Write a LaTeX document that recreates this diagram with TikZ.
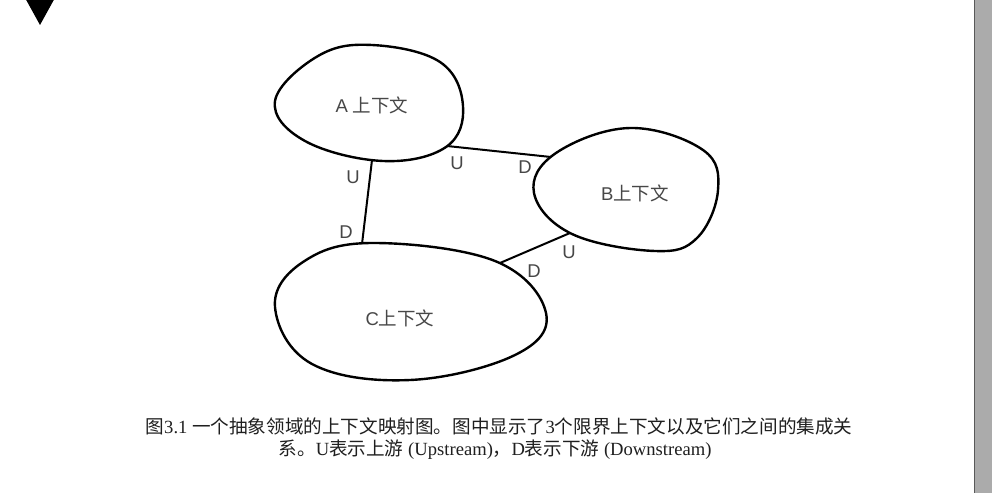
\documentclass[tikz,border=0pt]{standalone}
\usepackage{fontspec}
\setmainfont{Liberation Sans}
\newfontfamily\cjk{Noto Sans CJK SC}
\newfontfamily\serifl{Liberation Serif}
\begin{document}
\begin{tikzpicture}[x=1pt,y=-1pt,
  blob/.style={draw=black, line width=2.4pt, line join=round},
  link/.style={draw=black, line width=2pt},
  lbl/.style={text=black!72, font=\fontsize{18.5}{22}\selectfont, inner sep=0pt},
  udlbl/.style={text=black!72, font=\fontsize{18.5}{22}\selectfont, inner sep=0pt},
  captext/.style={text=black!88, font=\fontsize{18.6}{24}\selectfont, inner sep=0pt}]
\useasboundingbox (0,0) rectangle (992,492);
\fill[white] (0,0) rectangle (992,492);
% corner marker and side bar
\fill[black] (24,-4) -- (56,-4) -- (40,25) -- cycle;
\fill[black!33] (974,-1) rectangle (993,493);
\draw[black!65, line width=1.2pt] (974.6,-1) -- (974.6,493);
% blobs
\draw[blob] plot[smooth cycle, tension=0.65] coordinates {
  (275,101) (318,56) (372,45) (440,62) (463,106) (446,147) (383,161) (305,141)};
\draw[blob] plot[smooth cycle, tension=0.65] coordinates {
  (534,193) (556,153) (630,128) (703,150) (718,190) (697,238) (655,251) (572,234)};
\draw[blob] plot[smooth cycle, tension=0.65] coordinates {
  (275,307) (303,262) (372,243) (495,261) (546,313) (515,355) (410,380) (312,364)};
% labels
\node[lbl] (A) at (372,105) {A {\cjk 上下文}};
\node[lbl] (B) at (635,193) {B{\cjk 上下文}};
\node[lbl] (C) at (400,318) {C{\cjk 上下文}};
% connector end points on blob outlines
\coordinate (ac1) at (372,160);
\coordinate (ac2) at (362,244);
\coordinate (ab1) at (447,146);
\coordinate (ab2) at (551,157);
\coordinate (bc1) at (570,233);
\coordinate (bc2) at (500,263);
\draw[link] (ac1) -- (ac2);
\draw[link] (ab1) -- (ab2);
\draw[link] (bc1) -- (bc2);
% U / D labels
\node[udlbl] (acU) at (353,177) {U};
\node[udlbl] (acD) at (346,232) {D};
\node[udlbl] (abU) at (457,163) {U};
\node[udlbl] (abD) at (525,167) {D};
\node[udlbl] (bcU) at (569,252) {U};
\node[udlbl] (bcD) at (534,271) {D};
% caption
\node[captext] (cap1) at (499,426) {\cjk 图\serifl 3.1 \cjk 一个抽象领域的上下文映射图。图中显示了\serifl 3\cjk 个限界上下文以及它们之间的集成关};
\node[captext] (cap2) at (495,450) {\cjk 系。\serifl U\cjk 表示上游\serifl\ (Upstream)\cjk ，\serifl D\cjk 表示下游\serifl\ (Downstream)};
\end{tikzpicture}
\end{document}
